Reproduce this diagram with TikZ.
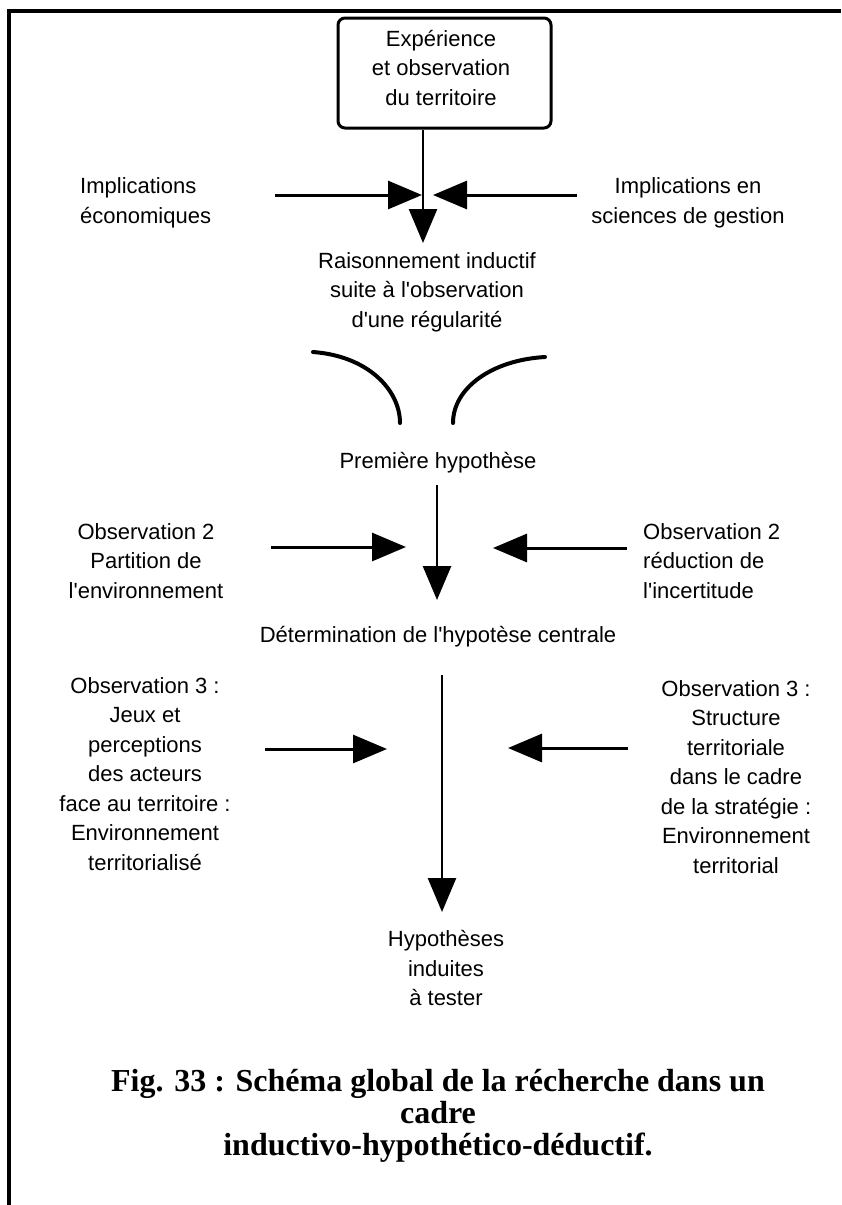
\documentclass[tikz,border=0pt]{standalone}
\usepackage{fontspec}
\setmainfont{Liberation Sans}[Ligatures=TeXOff]
\newfontfamily\captionserif{Liberation Serif}
\usetikzlibrary{arrows.meta}
\begin{document}
\begin{tikzpicture}[x=1pt,y=-1pt,
  txt/.style={inner sep=0pt, align=center, font=\fontsize{22}{29.5}\selectfont},
  txtl/.style={txt, align=left},
  topbox/.style={draw, line width=3pt, rounded corners=7pt, minimum width=213pt,
                 minimum height=110pt, inner sep=0pt},
  flow/.style={line width=3pt, -{Triangle[length=34pt,width=28pt]}},
  vflow/.style={line width=2.6pt, -{Triangle[length=34pt,width=28pt]}},
  funnel/.style={line width=4pt, line cap=round},
  frame/.style={line width=4pt},
  caption/.style={inner sep=0pt, align=center,
                  font=\captionserif\bfseries\fontsize{32}{32}\selectfont},
]
\useasboundingbox (0,0) rectangle (841,1205);

% page frame (left and top rules)
\draw[frame] (9,1205) -- (9,11) -- (841,11);

% starting point: experience of the territory
\node[topbox] (obs) at (444.5,73) {};
\node[txt] (obstxt) at (441,68) {Expérience\\et observation\\du territoire};

% first level: implications feeding the inductive reasoning
\node[txtl, anchor=west] (impeco) at (80,203) {Implications\\économiques};
\node[txt] (impges) at (688,203) {Implications en\\sciences de gestion};
\node[txt] (rais) at (427,292) {Raisonnement inductif\\suite à l'observation\\d'une régularité};

\coordinate (m1l) at (422,195);
\coordinate (m1r) at (433,195);
\coordinate (m1d) at (423,243);
\coordinate (s1l) at (275,195);
\coordinate (s1r) at (577,195);
\draw[flow] (s1l) -- (m1l);
\draw[flow] (s1r) -- (m1r);
\draw[vflow] (obs.south -| m1d) -- (m1d);

% funnel towards the first hypothesis
\coordinate (fl1) at (313,352);
\coordinate (fl2) at (400,423);
\coordinate (fr1) at (545,357);
\coordinate (fr2) at (453,423);
\draw[funnel] (fl1) .. controls (368,356) and (400,390) .. (fl2);
\draw[funnel] (fr1) .. controls (492,360) and (453,388) .. (fr2);

\node[txt] (prem) at (438,463) {Première hypothèse};

% second level of observations
\node[txt] (obs2a) at (146,561) {Observation 2\\Partition de\\l'environnement};
\node[txtl, anchor=west] (obs2b) at (643,561) {Observation 2\\réduction de\\l'incertitude};
\node[txt] (determ) at (438,637) {Détermination de l'hypotèse centrale};

\coordinate (d2s) at (437,485);
\coordinate (d2e) at (437,600);
\coordinate (a2l) at (271,547);
\coordinate (t2l) at (406,547);
\coordinate (a2r) at (627,548);
\coordinate (t2r) at (493,548);
\draw[vflow] (d2s) -- (d2e);
\draw[flow] (a2l) -- (t2l);
\draw[flow] (a2r) -- (t2r);

% third level of observations
\node[txt] (obs3a) at (145,774) {Observation 3 :\\Jeux et\\perceptions\\des acteurs\\face au territoire :\\Environnement\\territorialisé};
\node[txt] (obs3b) at (736,777) {Observation 3 :\\Structure\\territoriale\\dans le cadre\\de la stratégie :\\Environnement\\territorial};

\coordinate (d3s) at (442,675);
\coordinate (d3e) at (442,912);
\coordinate (a3l) at (265,749);
\coordinate (t3l) at (387,749);
\coordinate (a3r) at (628,748);
\coordinate (t3r) at (508,748);
\draw[vflow] (d3s) -- (d3e);
\draw[flow] (a3l) -- (t3l);
\draw[flow] (a3r) -- (t3r);

% outcome
\node[txt] (hyp) at (446,968) {Hypothèses\\induites\\à tester};

% figure caption
\node[caption] (cap) at (438,1116) {Fig. 33 : Schéma global de la récherche dans un\\cadre\\inductivo-hypothético-déductif.};
\end{tikzpicture}
\end{document}
